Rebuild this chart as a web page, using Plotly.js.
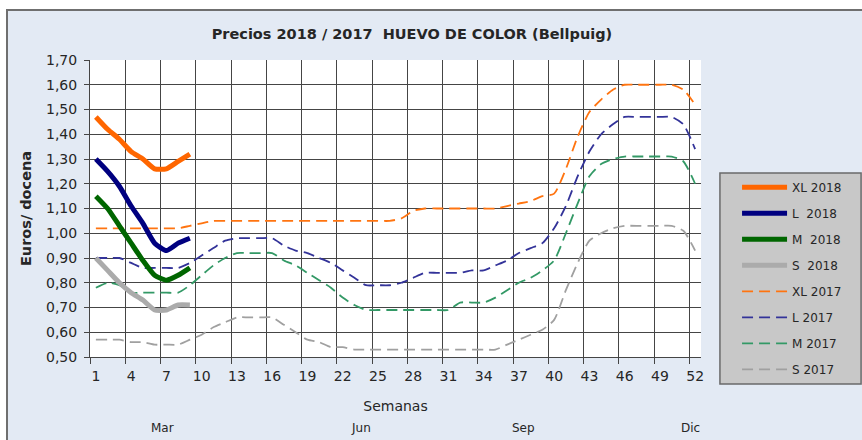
<!DOCTYPE html>
<html>
<head>
<meta charset="utf-8">
<script src="https://cdn.plot.ly/plotly-3.0.1.min.js"></script>
<style>
html,body{margin:0;padding:0;background:#ffffff;width:862px;height:440px;overflow:hidden;}
#frame{position:absolute;left:6px;top:9px;width:854px;height:429px;border:2px solid #6f6f6f;border-right:none;border-bottom:none;}
#chart{width:854px;height:429px;}
</style>
</head>
<body>
<div id="frame"><div id="chart"></div></div>
<script>
// ---- data ----
const weeks2018 = [1, 2, 3, 4, 5, 6, 7, 8, 9];
const xl2018 = [1.47, 1.42, 1.38, 1.33, 1.30, 1.26, 1.26, 1.29, 1.32];
const l2018  = [1.30, 1.25, 1.19, 1.11, 1.04, 0.96, 0.93, 0.96, 0.98];
const m2018  = [1.15, 1.10, 1.03, 0.96, 0.89, 0.83, 0.81, 0.83, 0.86];
const s2018  = [0.90, 0.85, 0.80, 0.76, 0.73, 0.69, 0.69, 0.71, 0.71];

const weeks2017 = [1, 2, 3, 4, 5, 6, 7, 8, 9, 10, 11, 12, 13, 14, 15, 16, 17, 18, 19, 20,
  21, 22, 23, 24, 25, 26, 27, 28, 29, 30, 31, 32, 33, 34, 35, 36, 37, 38, 39, 40,
  41, 42, 43, 44, 45, 46, 47, 48, 49, 50, 51, 52];
const xl2017 = [1.02, 1.02, 1.02, 1.02, 1.02, 1.02, 1.02, 1.02, 1.03, 1.04,
  1.05, 1.05, 1.05, 1.05, 1.05, 1.05, 1.05, 1.05, 1.05, 1.05,
  1.05, 1.05, 1.05, 1.05, 1.05, 1.05, 1.06, 1.09, 1.10, 1.10,
  1.10, 1.10, 1.10, 1.10, 1.10, 1.11, 1.12, 1.13, 1.15, 1.16,
  1.26, 1.39, 1.49, 1.54, 1.58, 1.60, 1.60, 1.60, 1.60, 1.60,
  1.58, 1.52];
const l2017 = [0.90, 0.90, 0.90, 0.88, 0.86, 0.86, 0.86, 0.86, 0.88, 0.91,
  0.94, 0.97, 0.98, 0.98, 0.98, 0.98, 0.95, 0.93, 0.92, 0.90,
  0.88, 0.85, 0.82, 0.79, 0.79, 0.79, 0.80, 0.82, 0.84, 0.84,
  0.84, 0.84, 0.85, 0.85, 0.87, 0.89, 0.92, 0.94, 0.96, 1.02,
  1.11, 1.23, 1.33, 1.40, 1.44, 1.47, 1.47, 1.47, 1.47, 1.47,
  1.44, 1.34];
const m2017 = [0.78, 0.80, 0.79, 0.76, 0.76, 0.76, 0.76, 0.76, 0.79, 0.83,
  0.87, 0.90, 0.92, 0.92, 0.92, 0.92, 0.89, 0.87, 0.84, 0.81,
  0.78, 0.74, 0.71, 0.69, 0.69, 0.69, 0.69, 0.69, 0.69, 0.69,
  0.69, 0.72, 0.72, 0.72, 0.74, 0.77, 0.80, 0.82, 0.85, 0.89,
  1.00, 1.12, 1.23, 1.28, 1.30, 1.31, 1.31, 1.31, 1.31, 1.31,
  1.29, 1.20];
const s2017 = [0.57, 0.57, 0.57, 0.56, 0.56, 0.55, 0.55, 0.55, 0.57, 0.59,
  0.62, 0.64, 0.66, 0.66, 0.66, 0.66, 0.63, 0.60, 0.57, 0.56,
  0.54, 0.54, 0.53, 0.53, 0.53, 0.53, 0.53, 0.53, 0.53, 0.53,
  0.53, 0.53, 0.53, 0.53, 0.53, 0.55, 0.57, 0.59, 0.61, 0.65,
  0.77, 0.88, 0.97, 1.00, 1.02, 1.03, 1.03, 1.03, 1.03, 1.03,
  1.01, 0.93];

const seriesNames = ['XL 2018', 'L\u00a0 2018', 'M\u00a0 2018', 'S\u00a0 2018',
                     'XL 2017', 'L 2017', 'M 2017', 'S 2017'];

const weekTicks = [1, 4, 7, 10, 13, 16, 19, 22, 25, 28, 31, 34, 37, 40, 43, 46, 49, 52];
const weekTickText = ['1', '4', '7', '10', '13', '16', '19', '22', '25', '28', '31', '34', '37', '40', '43', '46', '49', '52'];
const gridWeeks = [0.5, 3.5, 6.5, 9.5, 12.5, 15.5, 18.5, 21.5, 24.5, 27.5, 30.5, 33.5, 36.5, 39.5, 42.5, 45.5, 48.5, 51.5];

const monthLabels = ['Mar', 'Jun', 'Sep', 'Dic'];
const monthWeeks = [6.7, 23.6, 37.4, 51.6];

// ---- styles ----
const solid = (color) => ({color: color, width: 5, shape: 'spline', smoothing: 0.5});
const dashed = (color) => ({color: color, width: 1.8, dash: '11px,6px', shape: 'spline', smoothing: 0.6});

const defs = [
  [weeks2018, xl2018, solid('#FF6600')],
  [weeks2018, l2018, solid('#000080')],
  [weeks2018, m2018, solid('#006600')],
  [weeks2018, s2018, solid('#ABABAB')],
  [weeks2017, xl2017, dashed('#FF7410')],
  [weeks2017, l2017, dashed('#333399')],
  [weeks2017, m2017, dashed('#339966')],
  [weeks2017, s2017, dashed('#A0A0A0')]
];

const data = defs.map((d, i) => ({
  type: 'scatter', mode: 'lines', x: d[0], y: d[1], line: d[2],
  name: seriesNames[i], legendgroup: 'g' + i, hoverinfo: 'x+y+name'
}));
// draw 2017 under 2018 but keep legend order
const drawOrder = [4, 5, 6, 7, 0, 1, 2, 3];
const traces = drawOrder.map(i => Object.assign({}, data[i], {legendrank: i + 1}));

const gridColor = '#454545';

const layout = {
  width: 854, height: 429,
  paper_bgcolor: '#E3EAF4', plot_bgcolor: '#FFFFFF',
  margin: {l: 82, r: 161, t: 49, b: 83},
  separators: ',.',
  font: {family: 'DejaVu Sans, Verdana, sans-serif', color: '#262626'},
  title: {
    text: '<b>Precios 2018 / 2017\u00a0 HUEVO DE COLOR (Bellpuig)</b>',
    font: {size: 14.5, color: '#262626'},
    xref: 'container', x: 0.473, xanchor: 'center',
    yref: 'container', y: 0.946, yanchor: 'middle'
  },
  xaxis: {
    range: [0.5, 52.5], tickmode: 'array', tickvals: weekTicks, ticktext: weekTickText,
    ticks: '', showgrid: false, zeroline: false,
    showline: true, linecolor: gridColor, linewidth: 1,
    tickfont: {size: 14, color: '#262626'}, ticklabelstandoff: 6,
    minor: {tickmode: 'array', tickvals: gridWeeks, ticks: 'outside', ticklen: 6,
            tickcolor: gridColor, showgrid: true, gridcolor: gridColor, gridwidth: 1},
    title: {text: 'Semanas', font: {size: 14, color: '#262626'}, standoff: 18},
    fixedrange: true
  },
  yaxis: {
    range: [0.5, 1.7], tick0: 0.5, dtick: 0.1, tickformat: '.2f',
    ticks: 'outside', ticklen: 5, tickcolor: gridColor,
    showgrid: true, gridcolor: gridColor, gridwidth: 1, zeroline: false,
    showline: true, linecolor: gridColor, linewidth: 1,
    tickfont: {size: 14, color: '#262626'}, ticklabelstandoff: 4,
    title: {text: '<b>Euros/ docena</b>', font: {size: 14.5, color: '#262626'}, standoff: 10},
    fixedrange: true
  },
  showlegend: true,
  legend: {
    x: 1.059, y: 0.62, xanchor: 'left', yanchor: 'top',
    bgcolor: 'rgba(0,0,0,0)', borderwidth: 0,
    font: {size: 12, color: '#262626'},
    traceorder: 'grouped', tracegroupgap: 7, itemwidth: 45
  },
  shapes: [{
    type: 'rect', xref: 'paper', yref: 'paper',
    x0: 1.031, x1: 1.262, y0: -0.0909, y1: 0.6195,
    fillcolor: '#C8C8C8', line: {color: '#6a6a6a', width: 1.5}, layer: 'below'
  }],
  annotations: monthLabels.map((t, i) => ({
    text: t, xref: 'x', x: monthWeeks[i], yref: 'paper', y: -0.239,
    xanchor: 'center', yanchor: 'middle', showarrow: false,
    font: {size: 12, color: '#262626'}
  }))
};

Plotly.newPlot('chart', traces, layout, {displayModeBar: false, staticPlot: true});
</script>
</body>
</html>
